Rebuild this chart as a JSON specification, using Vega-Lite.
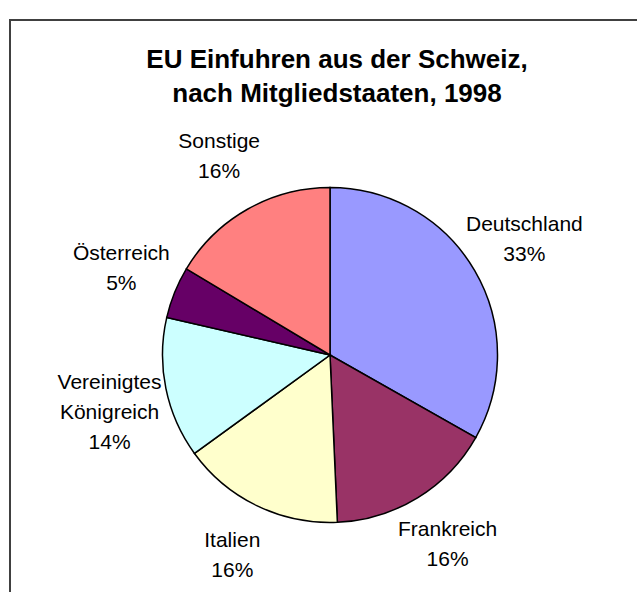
{
  "$schema": "https://vega.github.io/schema/vega-lite/v6.json",
  "width": 640,
  "height": 670,
  "autosize": {"type": "none"},
  "padding": {"left": 10, "top": 20, "right": 0, "bottom": 0},
  "background": "white",
  "view": {"stroke": "#404040", "strokeWidth": 2, "fill": "white"},
  "title": {
    "text": ["EU Einfuhren aus der Schweiz,", "nach Mitgliedstaaten, 1998"],
    "font": "Liberation Sans",
    "fontSize": 26,
    "fontWeight": "bold",
    "color": "black",
    "anchor": "middle",
    "frame": "group",
    "baseline": "alphabetic",
    "offset": -108,
    "lineHeight": 34,
    "dx": 7
  },
  "data": {
    "values": [
      {"rang": 1, "land": "Deutschland", "anteil": 33.2, "beschriftung": "Deutschland\n33%"},
      {"rang": 2, "land": "Frankreich", "anteil": 16.1, "beschriftung": "Frankreich\n16%"},
      {"rang": 3, "land": "Italien", "anteil": 15.7, "beschriftung": "Italien\n16%"},
      {"rang": 4, "land": "Vereinigtes Königreich", "anteil": 13.6, "beschriftung": "Vereinigtes\nKönigreich\n14%"},
      {"rang": 5, "land": "Österreich", "anteil": 5.0, "beschriftung": "Österreich\n5%"},
      {"rang": 6, "land": "Sonstige", "anteil": 16.4, "beschriftung": "Sonstige\n16%"}
    ]
  },
  "encoding": {
    "theta": {"field": "anteil", "type": "quantitative", "stack": true},
    "order": {"field": "rang", "type": "quantitative", "sort": "ascending"}
  },
  "layer": [
    {
      "mark": {"type": "arc", "outerRadius": 167.5, "stroke": "black", "strokeWidth": 1.5},
      "encoding": {
        "color": {
          "field": "land",
          "type": "nominal",
          "scale": {
            "domain": ["Deutschland", "Frankreich", "Italien", "Vereinigtes Königreich", "Österreich", "Sonstige"],
            "range": ["#9999FF", "#993366", "#FFFFCC", "#CCFFFF", "#660066", "#FF8080"]
          },
          "legend": null
        }
      }
    },
    {
      "mark": {
        "type": "text",
        "radius": 225,
        "dy": -17,
        "font": "Liberation Sans",
        "fontSize": 21,
        "lineHeight": 30,
        "lineBreak": "\n",
        "color": "black",
        "align": "center",
        "baseline": "middle"
      },
      "encoding": {"text": {"field": "beschriftung", "type": "nominal"}}
    }
  ]
}
